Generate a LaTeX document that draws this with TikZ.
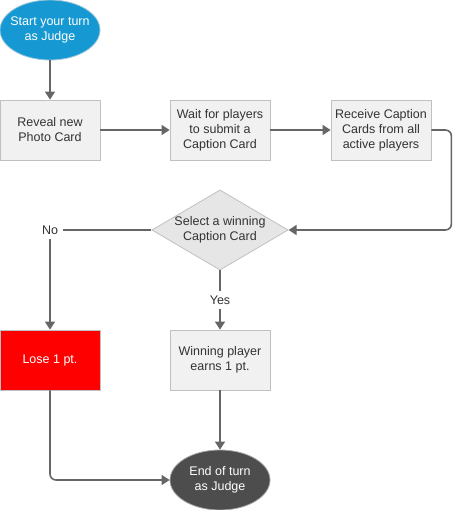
\documentclass[tikz,border=0pt]{standalone}
\usepackage{fontspec}
\setmainfont{Liberation Sans}
\usetikzlibrary{shapes.geometric,arrows.meta}
\definecolor{startblue}{HTML}{1699D3}
\definecolor{startline}{HTML}{9CC6DA}
\definecolor{boxfill}{HTML}{F1F1F1}
\definecolor{boxline}{HTML}{C0C0C0}
\definecolor{endgray}{HTML}{4D4D4D}
\definecolor{flowgray}{HTML}{666666}
\definecolor{txt}{HTML}{333333}

\begin{document}
\begin{tikzpicture}[x=1pt, y=-1pt,
    every node/.style={font=\fontsize{12.5}{15}\selectfont, align=center, text=txt},
    stepbox/.style={rectangle, draw=boxline, fill=boxfill, line width=0.8pt,
      minimum width=100pt, minimum height=60pt, inner sep=2pt},
    terminal/.style={ellipse, line width=0.8pt, minimum width=100pt,
      minimum height=60pt, inner xsep=-8pt, inner ysep=0pt, text=white},
    choice/.style={diamond, aspect=1.7, draw=boxline, fill=boxfill!90!gray,
      line width=0.8pt, minimum width=135pt, minimum height=80pt, inner sep=0pt},
    flow/.style={-{Triangle[length=8pt,width=10pt]}, line width=1.6pt, flowgray},
    lbl/.style={fill=white, inner sep=5pt}]
  \useasboundingbox (0,0) rectangle (455,510);

  % --- start and end ---
  \node[terminal, draw=startline, fill=startblue] (start) at (50,30) {Start your turn\\as Judge};
  \node[terminal, draw=gray!70, fill=endgray] (finish) at (220,480) {End of turn\\as Judge};

  % --- top row ---
  \node[stepbox] (reveal) at (50,130) {Reveal new\\Photo Card};
  \node[stepbox] (wait) at (220,130) {Wait for players\\to submit a\\Caption Card};
  \node[stepbox] (receive) at (381,130) {Receive Caption\\Cards from all\\active players};

  % --- decision ---
  \node[choice] (select) at (220,230) {Select a winning\\Caption Card};

  % --- outcomes ---
  \node[stepbox, fill=red, text=white] (lose) at (50,360) {Lose 1 pt.};
  \node[stepbox] (win) at (220,360) {Winning player\\earns 1 pt.};

  % --- connectors ---
  \draw[flow] (start) -- (reveal);
  \draw[flow] (reveal) -- (wait);
  \draw[flow] (wait) -- (receive);
  \draw[flow, rounded corners=6pt] (receive.east) -- ++(20,0) |- (select.east);
  \draw[flow] (select.west) -| node[lbl, pos=0.5] {No} (lose.north);
  \draw[flow] (select.south) -- node[lbl] {Yes} (win.north);
  \draw[flow] (win) -- (finish);
  \draw[flow, rounded corners=6pt] (lose.south) |- (finish.west);
\end{tikzpicture}
\end{document}
